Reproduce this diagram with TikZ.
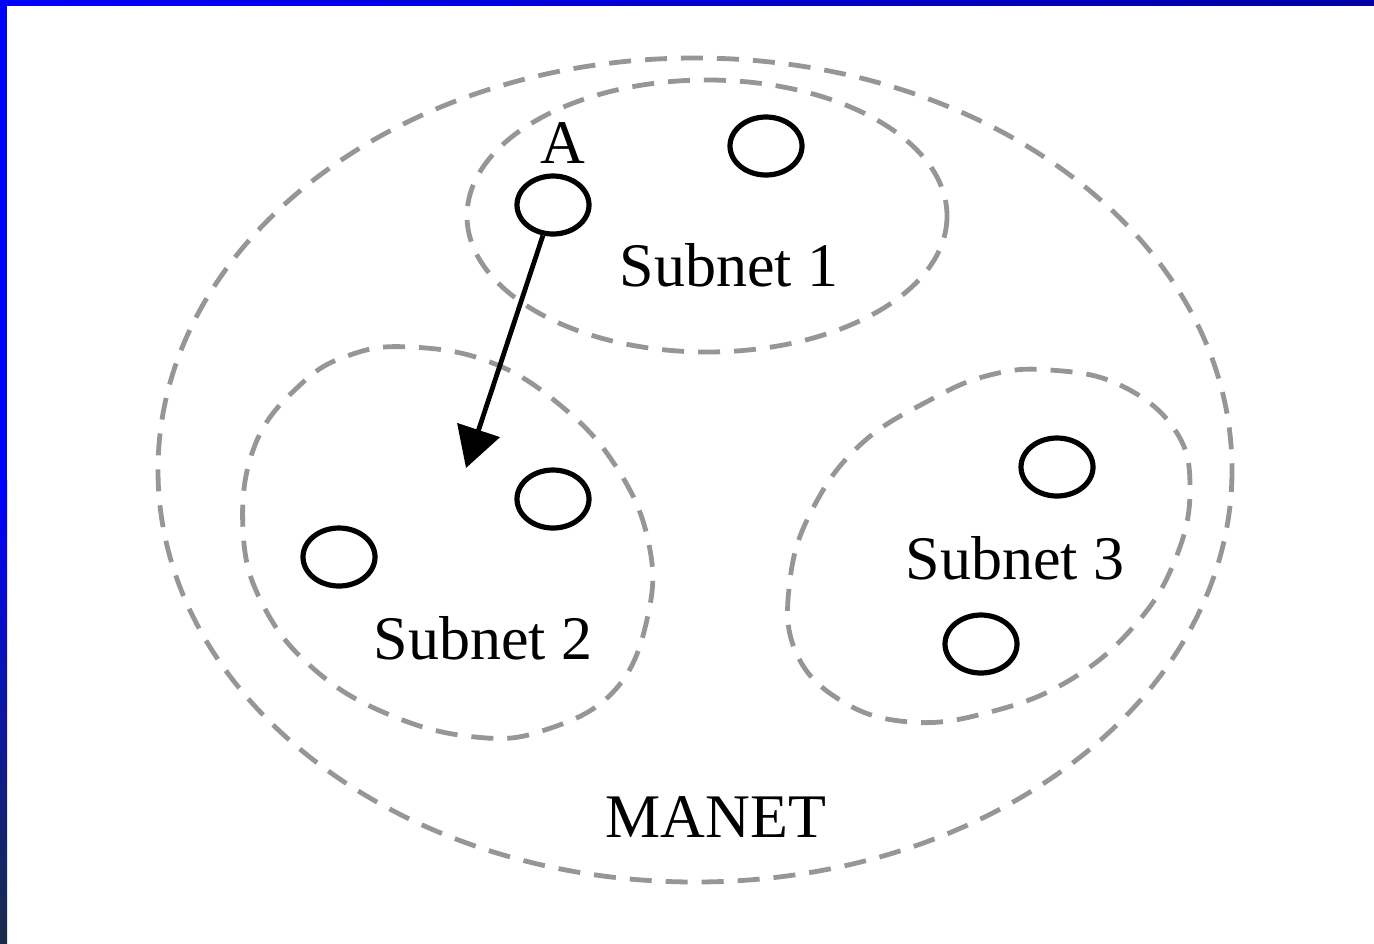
\documentclass[tikz,border=0pt]{standalone}
\usepackage{fontspec}
\setmainfont{Liberation Serif}
\usetikzlibrary{shapes.geometric,arrows.meta}
\definecolor{dashgray}{RGB}{150,150,150}
\definecolor{darkbar}{RGB}{25,45,70}
\definecolor{topright}{RGB}{0,0,165}
\tikzset{
  zone/.style={draw=dashgray, line width=2.4pt, dash pattern=on 11pt off 7pt},
  host/.style={draw=black, ellipse, line width=2.6pt, minimum width=36pt, minimum height=29pt, inner sep=0pt},
  lbl/.style={font=\fontsize{31}{37}\selectfont, inner sep=0pt},
  move/.style={line width=2.4pt, -{Triangle[length=20pt,width=22pt]}}
}
\begin{document}
\begin{tikzpicture}[x=0.5pt,y=-0.5pt]
\useasboundingbox (0,0) rectangle (1374,943);
\fill[white] (0,0) rectangle (1374,943);
% frame
\shade[left color=blue, right color=topright] (0,0) rectangle (1374,5);
\fill[blue] (0,0) rectangle (7,480);
\shade[top color=blue, bottom color=darkbar] (0,480) rectangle (7,943);
% zones
\draw[zone] (695,470) ellipse [x radius=537, y radius=412];
\draw[zone] (707,216) ellipse [x radius=240, y radius=136];
\draw[zone] plot[smooth cycle, tension=0.7] coordinates {(410,347) (490,362) (560,405) (615,465) (648,540) (648,615) (615,690) (545,730) (475,737) (390,715) (315,670) (263,605) (243,530) (255,445) (300,385) (350,355)};
\draw[zone] plot[smooth cycle, tension=0.7] coordinates {(1050,370) (1120,385) (1175,430) (1190,490) (1175,560) (1135,625) (1070,680) (990,712) (910,722) (840,700) (795,650) (790,580) (812,510) (860,445) (930,400) (990,375)};
% hosts
\node[host] (A) at (553,205) {};
\node[host] (n1) at (766,146) {};
\node[host] (n2a) at (553,499) {};
\node[host] (n2b) at (339,557) {};
\node[host] (n3a) at (1057,467) {};
\node[host] (n3b) at (981,644) {};
% labels
\node[lbl] (lA) at (563,143) {A};
\node[lbl] (s1) at (729,265) {Subnet 1};
\node[lbl] (s2) at (483,638) {Subnet 2};
\node[lbl] (s3) at (1015,558) {Subnet 3};
\node[lbl] (manet) at (716,817) {MANET};
% movement
\coordinate (tip) at (466,468);
\draw[move] (A) -- (tip);
\end{tikzpicture}
\end{document}
